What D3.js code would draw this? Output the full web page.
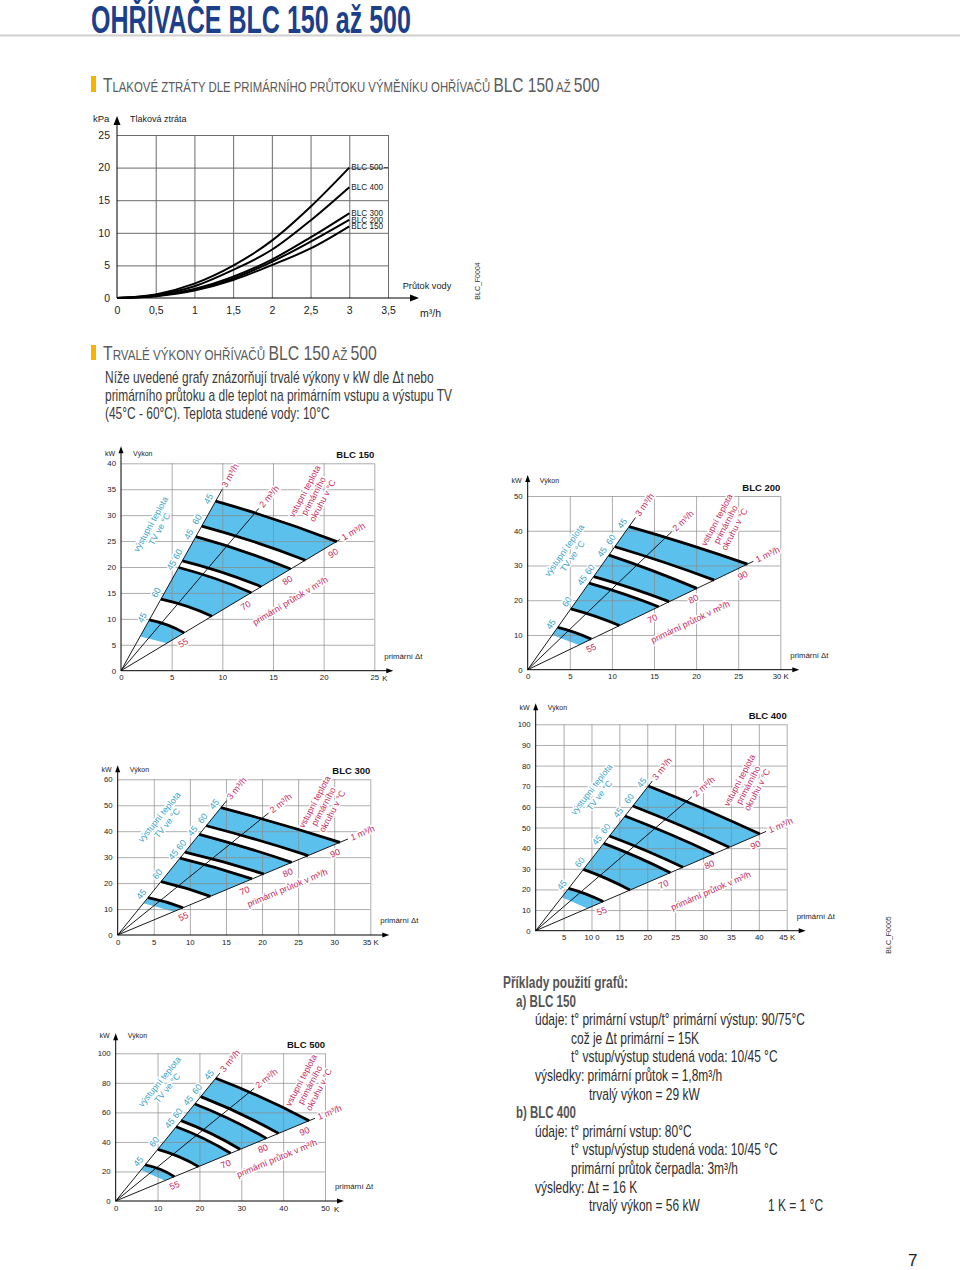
<!DOCTYPE html>
<html>
<head>
<meta charset="utf-8">
<script src="https://cdn.jsdelivr.net/npm/d3@7"></script>
<style>
  body { margin: 0; background: #fff; }
  svg { display: block; }
  text { font-family: "Liberation Sans", Arial, Helvetica, sans-serif; }
  .narrow { font-family: "Liberation Sans Narrow", "Liberation Sans", Arial, sans-serif; }
</style>
</head>
<body>
<svg id="page" width="960" height="1270"></svg>
<script>
// ---------- pressure loss chart data ----------
const flowPts = [0, 0.5, 1, 1.5, 2, 2.5, 3];
const loss500 = [0, 0.55, 2.2, 4.96, 8.8, 14.0, 20];
const loss400 = [0, 0.45, 1.8, 4.3, 7.4, 11.9, 17];
const loss300 = [0, 0.35, 1.4, 3.27, 5.9, 9.3, 13];
const loss200 = [0, 0.32, 1.3, 3.0, 5.55, 8.65, 12];
const loss150 = [0, 0.28, 1.15, 2.76, 5.05, 7.6, 11];
const lossNames = ["BLC 500", "BLC 400", "BLC 300", "BLC 200", "BLC 150"];
const lossXTicks = [0, 0.5, 1, 1.5, 2, 2.5, 3, 3.5];
const lossYTicks = [0, 5, 10, 15, 20, 25];

// ---------- power charts data ----------
// each line: [dt on 3 m3/h ray, kW, dt on 1 m3/h ray, kW]
// order: 90/45, 90/60, 80/45, 80/60, 70/45, 70/60, 55/45
const tvTemps = ["45", "60", "45", "60", "45", "60", "45"];
const primTemps = ["90", "80", "70", "55"];
const flowNames = ["3 m³/h", "2 m³/h", "1 m³/h"];

const lines150 = [[9.34, 32.7, 21.3, 24.9], [7.97, 27.9, 18.2, 21.3], [7.39, 25.85, 16.75, 19.6],
  [6.06, 21.2, 13.85, 16.2], [5.69, 19.9, 12.86, 15.05], [3.94, 13.8, 8.97, 10.5], [2.8, 9.8, 6.24, 7.3]];
const edge150 = [1.89, 6.6, 4.53, 5.3];
const rays150 = [[10.0, 35.0], [13.6, 31.3], [21.6, 25.3]];

const lines200 = [[12.05, 41.2, 26.1, 30.4], [10.35, 35.4, 22.15, 25.8], [9.65, 33.0, 20.1, 23.4],
  [7.84, 26.8, 16.8, 19.6], [7.28, 24.9, 15.55, 18.1], [5.12, 17.5, 10.9, 12.7], [3.57, 12.2, 7.55, 8.8]];
const edge200 = [2.92, 10.0, 6.1, 7.1];
const rays200 = [[12.8, 43.8], [17.1, 39.7], [26.8, 31.2]];

const lines300 = [[14.3, 49.1, 30.8, 35.7], [12.27, 42.1, 26.4, 30.6], [11.3, 38.8, 24.1, 28.0],
  [9.3, 31.9, 20.25, 23.5], [8.63, 29.6, 18.6, 21.6], [6.0, 20.6, 12.85, 14.9], [4.2, 14.4, 9.05, 10.5]];
const edge300 = [3.56, 12.2, 7.76, 9.0];
const rays300 = [[15.1, 51.8], [20.9, 47.0], [31.9, 37.0]];

const lines400 = [[20.2, 70.1, 40.2, 46.8], [17.4, 60.4, 34.7, 40.4], [16.0, 55.6, 31.95, 37.2],
  [13.2, 45.9, 26.4, 30.7], [12.2, 42.3, 24.15, 28.1], [8.56, 29.7, 16.9, 19.7], [5.9, 20.5, 12.1, 14.1]];
const edge400 = [4.67, 16.2, 9.28, 10.8];
const rays400 = [[20.9, 72.5], [28.0, 64.9], [41.3, 48.1]];

const lines500 = [[23.9, 83.1, 46.2, 54.4], [20.3, 70.7, 38.9, 45.8], [18.9, 65.7, 36.0, 42.4],
  [15.6, 54.4, 29.7, 35.0], [14.45, 50.3, 27.45, 32.3], [10.05, 35.0, 19.8, 23.3], [7.0, 24.4, 14.0, 16.5]];
const edge500 = [6.03, 21.0, 11.7, 13.8];
const rays500 = [[24.9, 86.6], [33.1, 76.3], [47.6, 56.0]];

const kwTicks150 = [0, 5, 10, 15, 20, 25, 30, 35, 40];
const kwTicks200 = [0, 10, 20, 30, 40, 50];
const kwTicks300 = [0, 10, 20, 30, 40, 50, 60];
const kwTicks400 = [0, 10, 20, 30, 40, 50, 60, 70, 80, 90, 100];
const kwTicks500 = [0, 20, 40, 60, 80, 100];
const dtTicks150 = [0, 5, 10, 15, 20, 25];
const dtTicks200 = [0, 5, 10, 15, 20, 25, 30];
const dtTicks300 = [0, 5, 10, 15, 20, 25, 30, 35];
const dtTicks400 = [5, 10, 15, 20, 25, 30, 35, 40, 45];
const dtTicks500 = [0, 10, 20, 30, 40, 50];
const dtLabels200 = ["0", "5", "10", "15", "20", "25", "30 K"];
const dtLabels300 = ["0", "5", "10", "15", "20", "25", "30", "35 K"];
const dtLabels400 = ["5", "10 0", "15", "20", "25", "30", "35", "40", "45 K"];

const cyan = "#3aa2c6", magenta = "#c22a62", fillBlue = "#5bc0ec";

const svg = d3.select("#page");

// squeeze a text horizontally to a given width (condensed look)
function squeeze(t, x, y, width) {
  const w = t.node().getComputedTextLength();
  t.attr("transform", `translate(${x},${y}) scale(${width / w},1)`);
  return width / w;
}

// ---------- page header ----------
const title = svg.append("text").attr("class", "narrow")
  .attr("font-size", 38).attr("font-weight", "bold").attr("fill", "#1c3f8c")
  .text("OHŘÍVAČE BLC 150 až 500");
squeeze(title, 91, 33, 320);
svg.append("line").attr("x1", 0).attr("x2", 960).attr("y1", 35.5).attr("y2", 35.5)
  .attr("stroke", "#cfcfcf").attr("stroke-width", 2);

function sectionHead(parts, x, y, width, barY, barH) {
  svg.append("rect").attr("x", x - 12).attr("y", barY).attr("width", 5).attr("height", barH).attr("fill", "#f6b400");
  const t = svg.append("text").attr("class", "narrow").attr("fill", "#5a5a5a");
  parts.forEach(p => t.append("tspan").attr("font-size", p[1] ? 21 : 15.5).text(p[0]));
  squeeze(t, x, y, width);
}
sectionHead([["T", 1], ["LAKOVÉ ZTRÁTY DLE PRIMÁRNÍHO PRŮTOKU VÝMĚNÍKU OHŘÍVAČŮ ", 0], ["BLC 150", 1], [" AŽ ", 0], ["500", 1]],
  103, 92, 497, 76, 16);
sectionHead([["T", 1], ["RVALÉ VÝKONY OHŘÍVAČŮ ", 0], ["BLC 150", 1], [" AŽ ", 0], ["500", 1]],
  103, 360, 274, 345, 15);

const paraLines = ["Níže uvedené grafy znázorňují trvalé výkony v kW dle Δt nebo",
  "primárního průtoku a dle teplot na primárním vstupu a výstupu TV",
  "(45°C - 60°C). Teplota studené vody: 10°C"];
let kPara = 1;
paraLines.forEach((s, i) => {
  const t = svg.append("text").attr("class", "narrow").attr("font-size", 16).attr("fill", "#3a3a3a").text(s);
  if (i === 0) kPara = squeeze(t, 105, 383, 329);
  else t.attr("transform", `translate(105,${383 + i * 18}) scale(${kPara},1)`);
});

// ---------- pressure loss chart ----------
(function lossChart() {
  const g = svg.append("g");
  const x = d3.scaleLinear().domain([0, 3.5]).range([117, 388]);
  const y = d3.scaleLinear().domain([0, 25]).range([298, 135]);

  g.append("g").attr("transform", "translate(0,298)")
    .call(d3.axisBottom(x).tickValues(lossXTicks.slice(1)).tickSize(-(298 - 135)).tickFormat(""))
    .call(a => a.select(".domain").remove())
    .selectAll("line").attr("stroke", "#6a6a6a").attr("stroke-width", 1);
  g.append("g").attr("transform", "translate(117,0)")
    .call(d3.axisRight(y).tickValues(lossYTicks.slice(1)).tickSize(388 - 117).tickFormat(""))
    .call(a => a.select(".domain").remove())
    .selectAll("line").attr("stroke", "#6a6a6a").attr("stroke-width", 1);

  // axes with arrows
  g.append("line").attr("x1", 117).attr("x2", 414).attr("y1", 298).attr("y2", 298).attr("stroke", "#000");
  g.append("path").attr("d", "M419,298 L410,294.5 L410,301.5 Z").attr("fill", "#000");
  g.append("line").attr("x1", 117).attr("x2", 117).attr("y1", 298).attr("y2", 122).attr("stroke", "#000");
  g.append("path").attr("d", "M117,116 L113.5,125 L120.5,125 Z").attr("fill", "#000");

  const series = [loss500, loss400, loss300, loss200, loss150];
  const line = d3.line().x((d, i) => x(flowPts[i])).y(d => y(d)).curve(d3.curveMonotoneX);
  g.selectAll(".loss").data(series).join("path")
    .attr("d", line).attr("fill", "none").attr("stroke", "#000").attr("stroke-width", 2);
  g.selectAll(".lossLbl").data(series).join("text")
    .attr("x", x(3) + 2).attr("y", d => y(d[d.length - 1])).attr("dy", "0.35em")
    .attr("font-size", 8.2).attr("fill", "#222").text((d, i) => lossNames[i]);
  g.append("line").attr("x1", 384).attr("x2", 388).attr("y1", y(loss500[6])).attr("y2", y(loss500[6]))
    .attr("stroke", "#444");

  const ax = g.append("g").attr("transform", "translate(0,298)")
    .call(d3.axisBottom(x).tickValues(lossXTicks).tickSize(0).tickPadding(9)
      .tickFormat(d => String(d).replace(".", ",")));
  ax.select(".domain").remove();
  ax.selectAll("text").attr("font-size", 10.5).attr("fill", "#222").attr("font-family", null);
  const ay = g.append("g").attr("transform", "translate(117,0)")
    .call(d3.axisLeft(y).tickValues(lossYTicks).tickSize(0).tickPadding(7));
  ay.select(".domain").remove();
  ay.selectAll("text").attr("font-size", 10.5).attr("fill", "#222").attr("font-family", null);

  g.append("text").attr("x", 93).attr("y", 121.5).attr("font-size", 9.5).attr("fill", "#222").text("kPa");
  g.append("text").attr("x", 130).attr("y", 121.5).attr("font-size", 9).attr("fill", "#222").text("Tlaková ztráta");
  g.append("text").attr("x", 427).attr("y", 288.5).attr("text-anchor", "middle").attr("font-size", 9.2)
    .attr("fill", "#222").text("Průtok vody");
  g.append("text").attr("x", 420).attr("y", 317).attr("font-size", 10.5).attr("fill", "#222").text("m³/h");
  g.append("text").attr("transform", "translate(480,281) rotate(-90)").attr("text-anchor", "middle")
    .attr("font-size", 7).attr("fill", "#333").text("BLC_F0004");
})();

// ---------- power charts ----------
function quad(p, s, e, bow) {
  const dx = e[0] - s[0], dy = e[1] - s[1], L = Math.hypot(dx, dy);
  p.quadraticCurveTo((s[0] + e[0]) / 2 + dy / L * 2 * bow, (s[1] + e[1]) / 2 - dx / L * 2 * bow, e[0], e[1]);
}

function halo(sel) {
  return sel.attr("stroke", "#fff").attr("stroke-width", 3).attr("stroke-linejoin", "round")
    .attr("paint-order", "stroke");
}

function powerChart(c) {
  const g = svg.append("g");
  const x = d3.scaleLinear().domain([0, c.dtMax]).range([c.x0, c.x1]);
  const y = d3.scaleLinear().domain([0, c.kwMax]).range([c.y0, c.y1]);
  const pt = d => [x(d[0]), y(d[1])];
  const o = pt([0, 0]);

  const starts = c.lines.map(l => pt([l[0], l[1]])).concat([pt([c.edge[0], c.edge[1]])]);
  const ends = c.lines.map(l => pt([l[2], l[3]])).concat([pt([c.edge[2], c.edge[3]])]);
  const bows = c.lines.map(() => c.bow).concat([0]);

  function band(i, j) {
    const p = d3.path();
    p.moveTo(starts[i][0], starts[i][1]);
    quad(p, starts[i], ends[i], bows[i]);
    p.lineTo(ends[j][0], ends[j][1]);
    quad(p, ends[j], starts[j], -bows[j]);
    p.closePath();
    return p.toString();
  }

  // blue bands (45 -> 60 for each primary temperature)
  g.selectAll(".band").data([[0, 1], [2, 3], [4, 5], [6, 7]]).join("path")
    .attr("d", d => band(d[0], d[1])).attr("fill", fillBlue);

  // grid
  g.append("g").attr("transform", `translate(0,${c.y0})`)
    .call(d3.axisBottom(x).tickValues(c.dtTicks.filter(v => v > 0)).tickSize(-(c.y0 - c.y1)).tickFormat(""))
    .call(a => a.select(".domain").remove())
    .selectAll("line").attr("stroke", "#8a8a8a").attr("stroke-width", 0.7);
  g.append("g").attr("transform", `translate(${c.x0},0)`)
    .call(d3.axisRight(y).tickValues(c.kwTicks.filter(v => v > 0)).tickSize(c.x1 - c.x0).tickFormat(""))
    .call(a => a.select(".domain").remove())
    .selectAll("line").attr("stroke", "#8a8a8a").attr("stroke-width", 0.7);

  // white gaps between bands
  g.selectAll(".gap").data([[1, 2], [3, 4], [5, 6]]).join("path")
    .attr("d", d => band(d[0], d[1])).attr("fill", "#fff");

  // flow rays
  g.selectAll(".ray").data(c.rays).join("line")
    .attr("x1", o[0]).attr("y1", o[1]).attr("x2", d => x(d[0])).attr("y2", d => y(d[1]))
    .attr("stroke", "#000").attr("stroke-width", 0.9);

  // thick temperature lines
  g.selectAll(".tl").data(c.lines).join("path")
    .attr("d", (d, i) => { const p = d3.path(); p.moveTo(starts[i][0], starts[i][1]); quad(p, starts[i], ends[i], c.bow); return p.toString(); })
    .attr("fill", "none").attr("stroke", "#000").attr("stroke-width", 2.8);

  // axes
  g.append("line").attr("x1", c.x0).attr("x2", c.x1 + 14).attr("y1", c.y0).attr("y2", c.y0).attr("stroke", "#000");
  g.append("path").attr("d", `M${c.x1 + 19},${c.y0} L${c.x1 + 12},${c.y0 - 2.5} L${c.x1 + 12},${c.y0 + 2.5} Z`).attr("fill", "#000");
  g.append("line").attr("x1", c.x0).attr("x2", c.x0).attr("y1", c.y0).attr("y2", c.y1 - c.yExt + 5).attr("stroke", "#000");
  g.append("path").attr("d", `M${c.x0},${c.y1 - c.yExt} L${c.x0 - 2.5},${c.y1 - c.yExt + 7} L${c.x0 + 2.5},${c.y1 - c.yExt + 7} Z`).attr("fill", "#000");

  const ax = g.append("g").attr("transform", `translate(0,${c.y0})`)
    .call(d3.axisBottom(x).tickValues(c.dtTicks).tickSize(0).tickPadding(4)
      .tickFormat((d, i) => c.dtLabels ? c.dtLabels[i] : String(d)));
  ax.select(".domain").remove();
  ax.selectAll("text").attr("font-size", 7.8).attr("fill", "#222").attr("font-family", null);
  const ay = g.append("g").attr("transform", `translate(${c.x0},0)`)
    .call(d3.axisLeft(y).tickValues(c.kwTicks).tickSize(0).tickPadding(5));
  ay.select(".domain").remove();
  ay.selectAll("text").attr("font-size", 7.8).attr("fill", "#222").attr("font-family", null);

  if (c.kDx) g.append("text").attr("x", c.x1 + c.kDx).attr("y", c.y0 + 10.5).attr("font-size", 7.8).attr("fill", "#222").text("K");
  g.append("text").attr("x", c.x1 + 10).attr("y", c.y0 - 12).attr("font-size", 7.8).attr("fill", "#222").text("primární Δt");
  g.append("text").attr("x", c.x0 - 6).attr("y", c.y1 - c.cap).attr("text-anchor", "end").attr("font-size", 7).attr("fill", "#222").text("kW");
  g.append("text").attr("x", c.x0 + 12).attr("y", c.y1 - c.cap).attr("font-size", 7).attr("fill", "#222").text("Výkon");
  g.append("text").attr("x", c.x1).attr("y", c.y1 - 5).attr("text-anchor", "end").attr("font-size", 9.5)
    .attr("font-weight", "bold").attr("fill", "#111").text(c.name);

  // directions of rays on screen
  const dir = r => { const p = pt(r); const dx = p[0] - o[0], dy = p[1] - o[1], L = Math.hypot(dx, dy); return [dx / L, dy / L]; };
  const us = c.rays.map(dir);
  const ang = u => Math.atan2(u[1], u[0]) * 180 / Math.PI;
  const u3 = us[0], u1 = us[2];

  // TV outlet temperatures along the 3 m3/h ray (60 nudged up, 45 nudged down the ray)
  g.selectAll(".tv").data(tvTemps).join("text")
    .attr("transform", (d, i) => {
      const a = d === "60" ? 3.5 : -1.5;
      const px = starts[i][0] + u3[1] * 7.5 + u3[0] * a, py = starts[i][1] - u3[0] * 7.5 + u3[1] * a;
      return `translate(${px},${py}) rotate(${ang(u3)})`;
    })
    .attr("text-anchor", "middle").attr("dy", "0.35em").attr("font-size", 9).attr("fill", cyan)
    .text(d => d).call(halo);

  // primary inlet temperatures below the 1 m3/h ray
  g.selectAll(".pt").data(primTemps).join("text")
    .attr("transform", (d, k) => {
      const a = ends[2 * k], b = ends[2 * k + 1], f = k < 3 ? 0.75 : 0.7;
      const px = b[0] + (a[0] - b[0]) * f - u1[1] * 8, py = b[1] + (a[1] - b[1]) * f + u1[0] * 8;
      return `translate(${px},${py}) rotate(${ang(u1)})`;
    })
    .attr("text-anchor", "middle").attr("dy", "0.35em").attr("font-size", 9).attr("fill", magenta)
    .text(d => d).call(halo);

  // flow labels at ray ends
  g.selectAll(".fl").data(c.rays).join("text")
    .attr("transform", (d, i) => { const p = pt(d); return `translate(${p[0] + us[i][0] * 3},${p[1] + us[i][1] * 3}) rotate(${ang(us[i])})`; })
    .attr("dy", "0.35em").attr("font-size", 9).attr("fill", magenta)
    .text((d, i) => flowNames[i]).call(halo);

  function block(pos, rot, rows, color) {
    const p = pt(pos);
    const b = g.append("g").attr("transform", `translate(${p[0]},${p[1]}) rotate(${rot})`);
    b.selectAll("text").data(rows).join("text")
      .attr("y", (d, i) => (i - (rows.length - 1) / 2) * 10).attr("dy", "0.35em")
      .attr("text-anchor", "middle").attr("font-size", 8.8).attr("fill", color)
      .text(d => d).call(halo);
  }
  block(c.tv, ang(u3), ["výstupní teplota", "TV ve °C"], cyan);
  block(c.prim, -62, ["vstupní teplota", "primárního", "okruhu v °C"], magenta);
  block(c.flow, ang(u1), ["primární průtok v m³/h"], magenta);
}

powerChart({ name: "BLC 150", dtMax: 25, kwMax: 40, x0: 121, x1: 374.3, y0: 670.7, y1: 463.3,
  lines: lines150, edge: edge150, rays: rays150, dtTicks: dtTicks150, kwTicks: kwTicks150,
  tv: [3.36, 27.8], prim: [19.0, 33.7], flow: [16.7, 13.5], bow: 1.5, yExt: 17, cap: 7, kDx: 8 });
powerChart({ name: "BLC 200", dtMax: 30, kwMax: 50, x0: 527.7, x1: 780.3, y0: 669.7, y1: 496,
  lines: lines200, edge: edge200, rays: rays200, dtTicks: dtTicks200, dtLabels: dtLabels200, kwTicks: kwTicks200,
  tv: [4.83, 33.5], prim: [23.5, 41.8], flow: [19.3, 13.8], bow: 0.9, yExt: 21, cap: 13, kDx: 0 });
powerChart({ name: "BLC 300", dtMax: 35, kwMax: 60, x0: 117.7, x1: 370.3, y0: 935, y1: 779.3,
  lines: lines300, edge: edge300, rays: rays300, dtTicks: dtTicks300, dtLabels: dtLabels300, kwTicks: kwTicks300,
  tv: [6.3, 44.3], prim: [28.5, 49.5], flow: [23.5, 18.2], bow: 0.8, yExt: 14, cap: 7.5, kDx: 0 });
powerChart({ name: "BLC 400", dtMax: 45, kwMax: 100, x0: 535.7, x1: 786.7, y0: 930.7, y1: 724.3,
  lines: lines400, edge: edge400, rays: rays400, dtTicks: dtTicks400, dtLabels: dtLabels400, kwTicks: kwTicks400,
  tv: [10.7, 67], prim: [38.1, 70.6], flow: [31.4, 19.4], bow: 0.9, yExt: 21, cap: 14, kDx: 0 });
powerChart({ name: "BLC 500", dtMax: 50, kwMax: 100, x0: 115.7, x1: 325, y0: 1201, y1: 1053.3,
  lines: lines500, edge: edge500, rays: rays500, dtTicks: dtTicks500, kwTicks: kwTicks500,
  tv: [11.4, 78.6], prim: [46.4, 78.6], flow: [38.5, 28.9], bow: 1.5, yExt: 20, cap: 15, kDx: 9 });

svg.append("text").attr("transform", "translate(891,935) rotate(-90)").attr("text-anchor", "middle")
  .attr("font-size", 7).attr("fill", "#333").text("BLC_F0005");

// ---------- worked examples ----------
const exRows = [
  [503, "Příklady použití grafů:", 1, 125],
  [516, "a) BLC 150", 1, 60],
  [535, "údaje: t° primární vstup/t° primární výstup: 90/75°C", 0],
  [571, "což je Δt primární = 15K", 0],
  [571, "t° vstup/výstup studená voda: 10/45 °C", 0],
  [535, "výsledky: primární průtok = 1,8m³/h", 0],
  [589, "trvalý výkon = 29 kW", 0],
  [516, "b) BLC 400", 1, 60],
  [535, "údaje: t° primární vstup: 80°C", 0],
  [571, "t° vstup/výstup studená voda: 10/45 °C", 0],
  [571, "primární průtok čerpadla: 3m³/h", 0],
  [535, "výsledky: Δt = 16 K", 0],
  [589, "trvalý výkon = 56 kW", 0]
];
const ref = svg.append("text").attr("class", "narrow").attr("font-size", 16).text(exRows[2][1]);
const kEx = 270 / ref.node().getComputedTextLength();
ref.remove();
exRows.forEach((r, i) => {
  const yy = 988 + i * 18.6;
  const t = svg.append("text").attr("class", "narrow").attr("font-size", 16)
    .attr("fill", r[2] ? "#555" : "#2e2e2e").attr("font-weight", r[2] ? "bold" : null).text(r[1]);
  if (r[2]) squeeze(t, r[0], yy, r[3]);
  else t.attr("transform", `translate(${r[0]},${yy}) scale(${kEx},1)`);
});
svg.append("text").attr("class", "narrow").attr("font-size", 16).attr("fill", "#2e2e2e")
  .attr("transform", `translate(768,${988 + 12 * 18.6}) scale(${kEx},1)`).text("1 K = 1 °C");

svg.append("text").attr("x", 908).attr("y", 1266).attr("font-size", 17).attr("fill", "#222").text("7");
</script>
</body>
</html>
